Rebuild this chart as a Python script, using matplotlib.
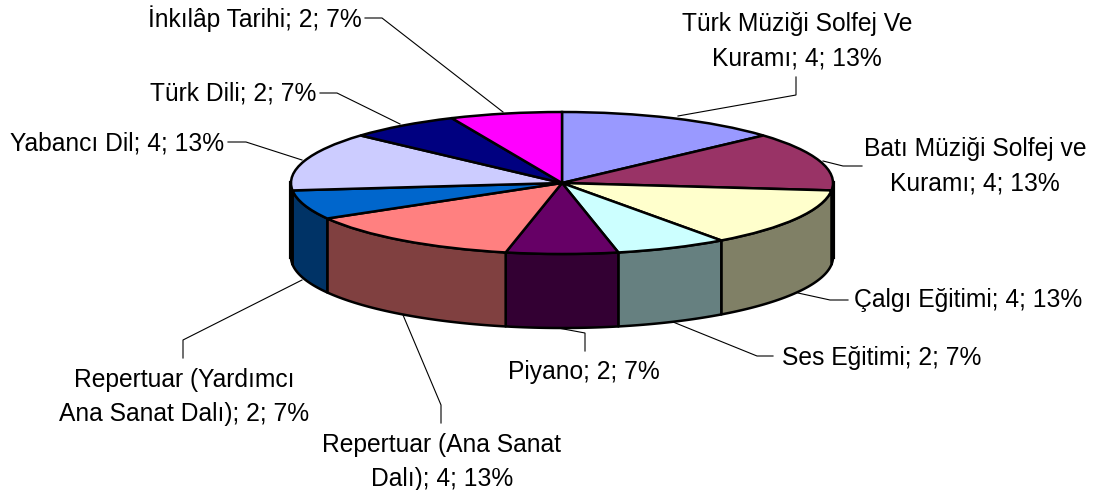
import numpy as np
import matplotlib
matplotlib.use("Agg")
import matplotlib.pyplot as plt
from matplotlib.patches import Rectangle

plt.rcParams['font.family'] = ['Liberation Sans', 'DejaVu Sans']

labels = ["Türk Müziği Solfej Ve\nKuramı; 4; 13%", "Batı Müziği Solfej ve\nKuramı; 4; 13%",
          "Çalgı Eğitimi; 4; 13%", "Ses Eğitimi; 2; 7%", "Piyano; 2; 7%",
          "Repertuar (Ana Sanat\nDalı); 4; 13%", "Repertuar (Yardımcı\nAna Sanat Dalı); 2; 7%",
          "Yabancı Dil; 4; 13%", "Türk Dili; 2; 7%", "İnkılâp Tarihi; 2; 7%"]
values = [4, 4, 4, 2, 2, 4, 2, 4, 2, 2]
top_colors = ['#9999FF', '#993366', '#FFFFCC', '#CCFFFF', '#660066',
              '#FF8080', '#0066CC', '#CCCCFF', '#000080', '#FF00FF']
side_colors = ['#4D4D80', '#4D1A33', '#808066', '#668080', '#330033',
               '#804040', '#003366', '#666680', '#000040', '#800080']

# label centres in picture pixels
label_x = [797, 975, 968, 882, 584, 442, 184, 117, 233, 255]
label_y = [41, 166, 300, 358, 372, 462, 397, 143, 93, 19]
leaders = [[(796, 77), (796, 95), (678, 116)],
           [(862, 166), (843, 166), (823, 161)],
           [(848, 300), (830, 300), (798, 293)],
           [(773, 356), (757, 356), (673, 322)],
           [(585, 351), (585, 333), (558, 328)],
           [(441, 423), (441, 405), (403, 315)],
           [(183, 358), (183, 340), (302, 280)],
           [(228, 142), (246, 142), (302, 160)],
           [(320, 93), (337, 93), (400, 124)],
           [(365, 18), (382, 18), (503, 112)]]

W, H = 1100, 490
cx, cy, rx, ry, depth = 562, 183, 271, 71, 74

fig = plt.figure(figsize=(W / 100, H / 100), dpi=100)

# overlay in pixel coordinates, for leaders and text
ax_txt = fig.add_axes([0, 0, 1, 1], zorder=1)
ax_txt.set_xlim(0, W)
ax_txt.set_ylim(H, 0)
ax_txt.axis('off')

# pie axes: unit circle squashed into the top ellipse
ax = fig.add_axes([(cx - rx) / W, 1 - (cy + ry) / H, 2 * rx / W, 2 * ry / H], zorder=2)
ax.pie(values, colors=top_colors, startangle=90, counterclock=False, radius=1,
       wedgeprops={'edgecolor': 'black', 'linewidth': 1.8, 'clip_on': False, 'zorder': 5})
ax.set_xlim(-1, 1)
ax.set_ylim(-1, 1)
ax.set_aspect('auto')
ax.patch.set_alpha(0)

# side walls: only the front half of the rim shows
edges = np.cumsum([0] + values) / sum(values) * 2 * np.pi
drop = depth / ry
for i in range(len(values)):
    a0 = max(edges[i], np.pi / 2)
    a1 = min(edges[i + 1], 3 * np.pi / 2)
    if a1 <= a0:
        continue
    t = np.linspace(a0, a1, 60)
    x = np.sin(t)
    y = np.cos(t)
    xs = np.r_[x, x[::-1]]
    ys = np.r_[y, y[::-1] - drop]
    ax.fill(xs, ys, facecolor=side_colors[i], edgecolor='black', linewidth=1.8,
            clip_on=False, zorder=3, joinstyle='round')

# the two outer wall edges are heavier
for sx in (-1, 1):
    ax.plot([sx, sx], [0, -drop], color='black', lw=3, clip_on=False, zorder=4)

for pts in leaders:
    ax_txt.plot(*zip(*pts), color='black', lw=0.8, solid_joinstyle='miter')

# the reference cuts the long label off at its right edge
clip = Rectangle((0, 0), 1085, H, transform=ax_txt.transData)
for lab, lx, ly in zip(labels, label_x, label_y):
    t = ax_txt.text(lx, ly, lab, ha='center', va='center', fontsize=17.7,
                    linespacing=1.56, color='black')
    t.set_clip_path(clip)

fig.savefig('out.png', dpi=100, facecolor='white')
